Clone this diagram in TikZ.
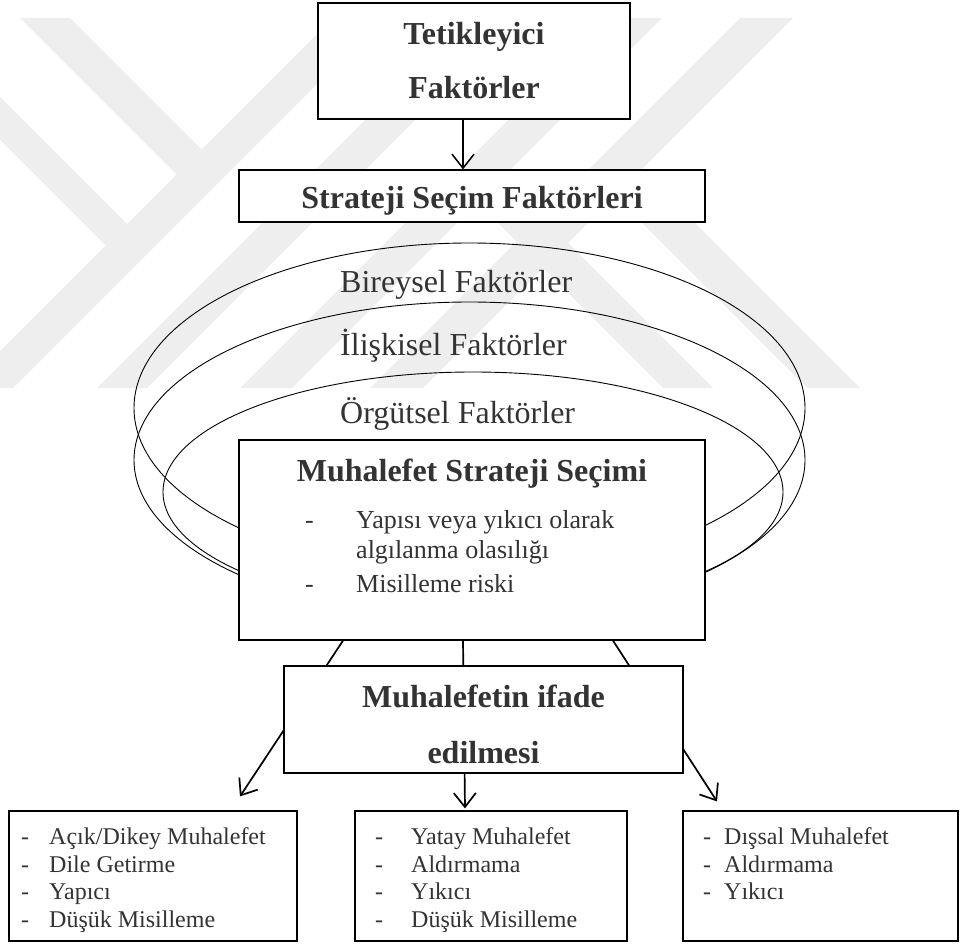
\documentclass[tikz,border=0pt]{standalone}
\usepackage{fontspec}
\setmainfont{Liberation Serif}
\usetikzlibrary{arrows.meta}
\definecolor{ink}{gray}{0.2}
\definecolor{wmark}{gray}{0.935}

\begin{document}
\begin{tikzpicture}[x=1pt,y=-1pt,
  boxnode/.style={draw=black, line width=1.2pt, fill=white, inner sep=0pt},
  ringline/.style={draw=black, line width=0.9pt},
  wmband/.style={fill=wmark, draw=none},
  headtext/.style={font=\fontsize{32}{32}\selectfont\bfseries, text=ink, inner sep=0pt, anchor=base},
  labeltext/.style={font=\fontsize{32}{32}\selectfont, text=ink, inner sep=0pt, anchor=base west},
  itemtext/.style={font=\fontsize{26}{26}\selectfont, text=ink, inner sep=0pt, anchor=base west},
  smalltext/.style={font=\fontsize{24}{24}\selectfont, text=ink, inner sep=0pt, anchor=base west},
  flowarrow/.style={draw=black, line width=1.7pt, -{Straight Barb[length=14pt,width=22pt]}},
]
\useasboundingbox (0,0) rectangle (960,944);

% background emblem: diagonal light bands
\fill[wmband] (20,18) -- (70,18) -- (201.5,149.5) -- (176.5,174.5) -- cycle;
\fill[wmband] (0,97) -- (127,224) -- (105.5,245.5) -- (0,140) -- cycle;
\fill[wmband] (333,18) -- (383,18) -- (13,388) -- (0,388) -- (0,351) -- cycle;
\fill[wmband] (467,18) -- (517,18) -- (147,388) -- (97,388) -- cycle;
\fill[wmband] (610,18) -- (662,18) -- (292,388) -- (240,388) -- cycle;
\fill[wmband] (740,18) -- (793,18) -- (423,388) -- (370,388) -- cycle;
\fill[wmband] (477.5,202.5) -- (502.5,177.5) -- (713,388) -- (663,388) -- cycle;
\fill[wmband] (615,196) -- (641.5,169.5) -- (860,388) -- (807,388) -- cycle;

% trigger box and strategy factor box
\node[boxnode, minimum width=312pt, minimum height=116pt] (trig) at (474,61) {};
\node[headtext] (trigA) at (474,45) {Tetikleyici};
\node[headtext] (trigB) at (474,99) {Faktörler};

\node[boxnode, minimum width=466pt, minimum height=52pt] (strat) at (472,196) {};
\node[headtext] (stratT) at (472,208) {Strateji Seçim Faktörleri};

\draw[flowarrow, line width=1.5pt] ([xshift=-11pt]trig.south) -- ([xshift=-9pt]strat.north);

% nested factor rings
\draw[ringline] (469.5,408) ellipse [x radius=335.5pt, y radius=165pt];
\draw[ringline] (469.5,460) ellipse [x radius=335.5pt, y radius=158pt];
\draw[ringline] (473,492) ellipse [x radius=310pt, y radius=120pt];

\node[labeltext] (indiv) at (340,292) {Bireysel Faktörler};
\node[labeltext] (relat) at (340,355) {İlişkisel Faktörler};
\node[labeltext] (organ) at (340,423) {Örgütsel Faktörler};

% strategy choice box
\node[boxnode, minimum width=466pt, minimum height=200pt] (msel) at (472,540) {};
\node[headtext] (mselT) at (472,481) {Muhalefet Strateji Seçimi};
\node[itemtext] (d1) at (305,528) {-};
\node[itemtext] (i1) at (356,528) {Yapısı veya yıkıcı olarak};
\node[itemtext] (i1b) at (356,558) {algılanma olasılığı};
\node[itemtext] (d2) at (305,592) {-};
\node[itemtext] (i2) at (356,592) {Misilleme riski};

% outcome boxes
\node[boxnode, minimum width=288pt, minimum height=130pt] (out1) at (153,876) {};
\node[boxnode, minimum width=272pt, minimum height=130pt] (out2) at (491,876) {};
\node[boxnode, minimum width=275pt, minimum height=130pt] (out3) at (820.5,876) {};

\draw[flowarrow] ([xshift=-129pt]msel.south) -- ([xshift=87pt,yshift=14pt]out1.north);
\draw[flowarrow] ([xshift=-9pt]msel.south) -- ([xshift=-26pt,yshift=2pt]out2.north);
\draw[flowarrow] ([xshift=141pt]msel.south) -- ([xshift=-103.5pt,yshift=9pt]out3.north);

% expression box over the connectors
\node[boxnode, minimum width=399pt, minimum height=107pt] (ifade) at (483.5,719.5) {};
\node[headtext] (ifadeA) at (483.5,707) {Muhalefetin ifade};
\node[headtext] (ifadeB) at (483.5,763) {edilmesi};

% outcome lists
\foreach \yy/\txt [count=\k] in {844/{Açık/Dikey Muhalefet}, 872/{Dile Getirme}, 899/{Yapıcı}, 927/{Düşük Misilleme}}{
  \node[smalltext] (la\k) at (21,\yy) {-};
  \node[smalltext] (lb\k) at (49,\yy) {\txt};
}
\foreach \yy/\txt [count=\k] in {844/{Yatay Muhalefet}, 872/{Aldırmama}, 899/{Yıkıcı}, 927/{Düşük Misilleme}}{
  \node[smalltext] (ma\k) at (375,\yy) {-};
  \node[smalltext] (mb\k) at (411,\yy) {\txt};
}
\foreach \yy/\txt [count=\k] in {844/{Dışsal Muhalefet}, 872/{Aldırmama}, 899/{Yıkıcı}}{
  \node[smalltext] (ra\k) at (703,\yy) {-};
  \node[smalltext] (rb\k) at (724,\yy) {\txt};
}
\end{tikzpicture}
\end{document}
